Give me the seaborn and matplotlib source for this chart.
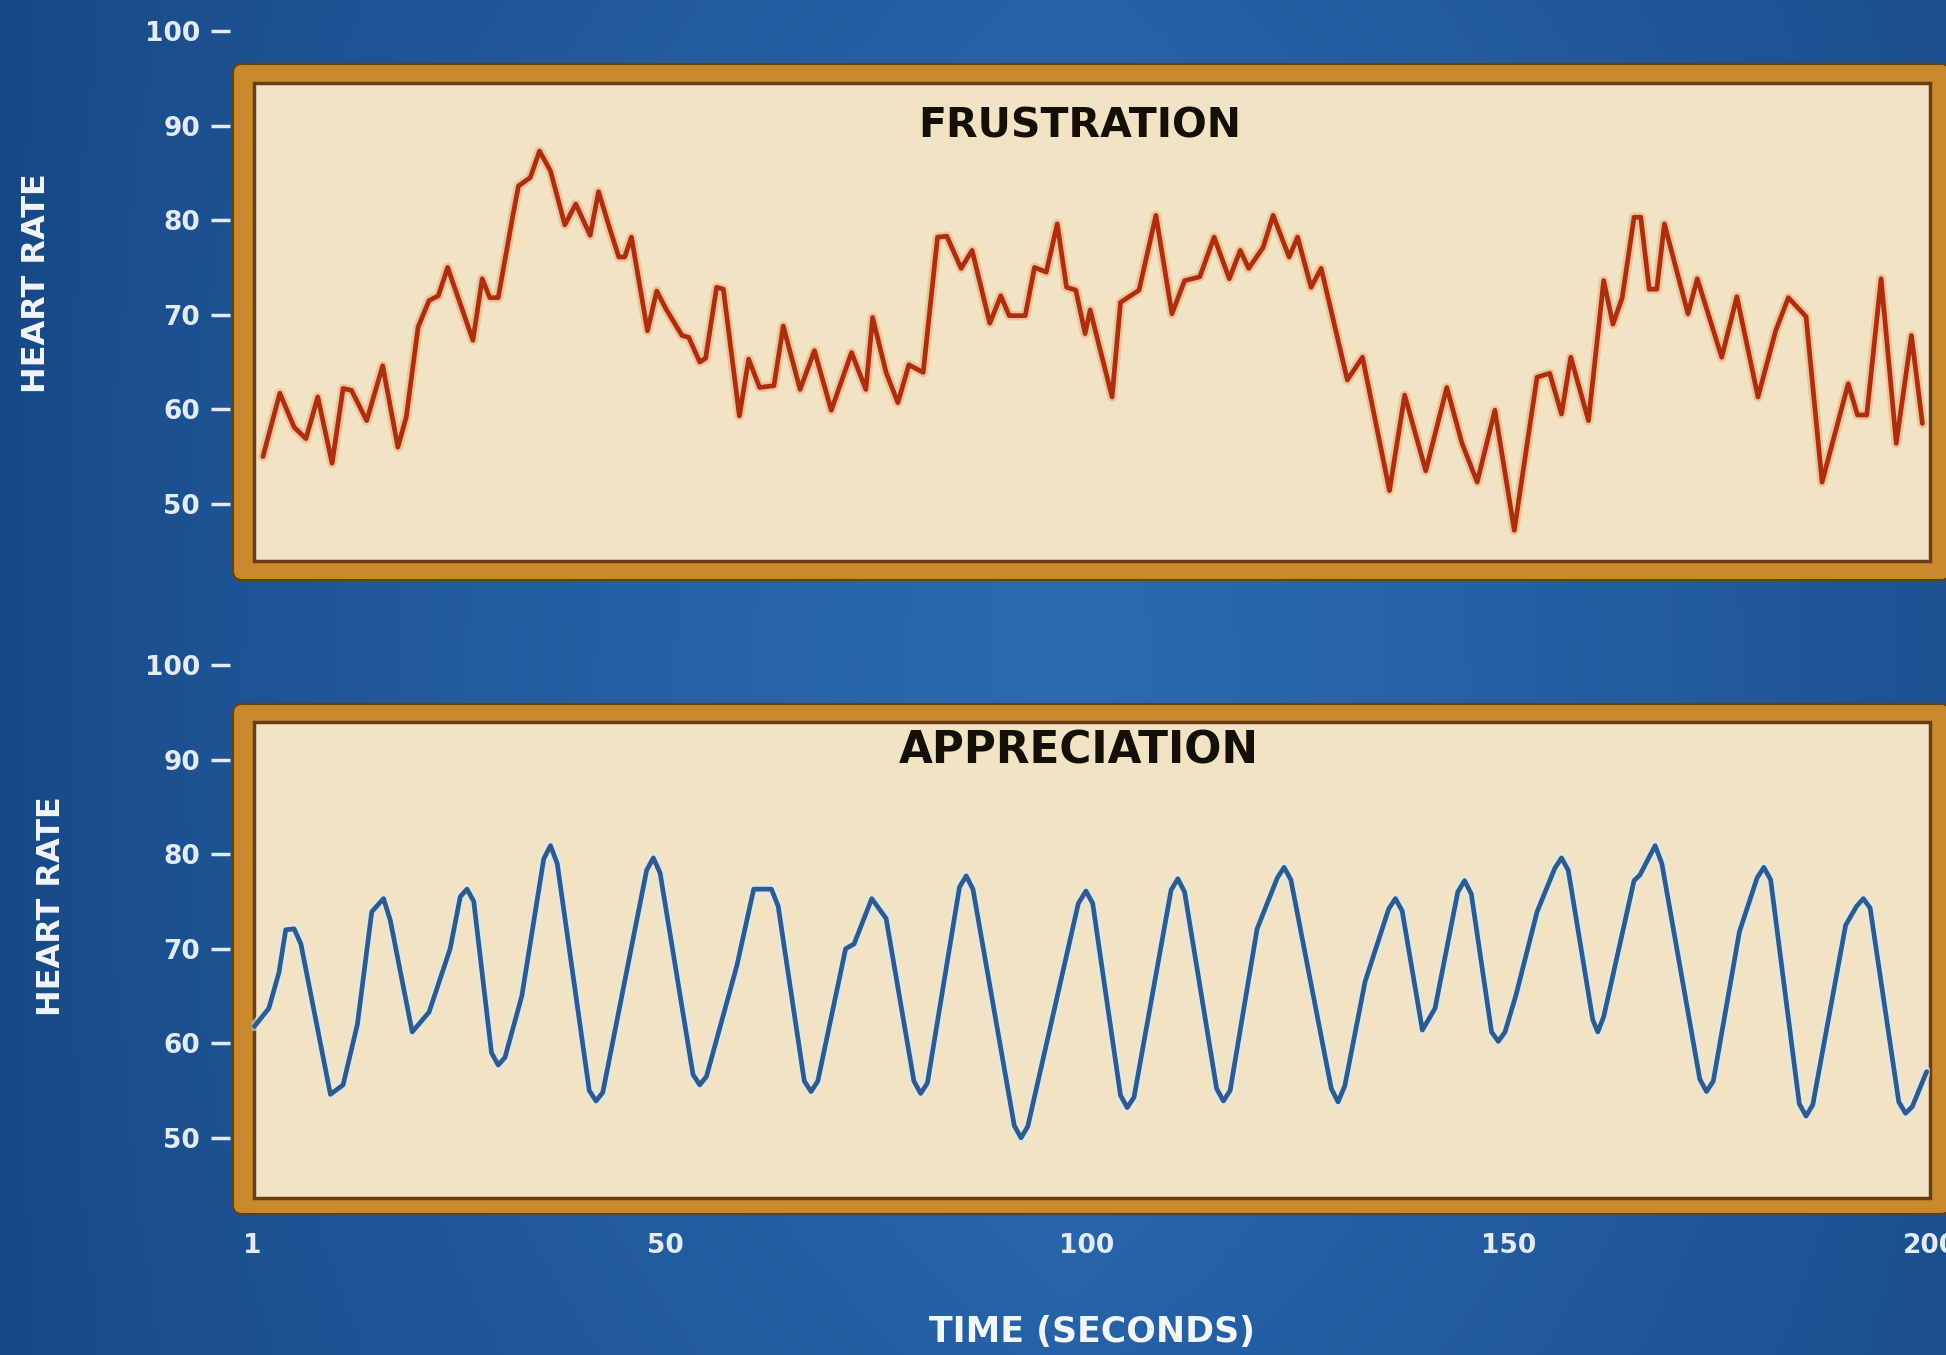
import matplotlib
matplotlib.use('Agg')
import matplotlib.pyplot as plt
import matplotlib.patheffects as pe
from matplotlib.patches import FancyBboxPatch, Rectangle
from matplotlib.transforms import Affine2D
import numpy as np
import seaborn as sns

W, H = 1946, 1355

# heart rate (time in seconds, beats per minute)
frus_time = [2.3, 4.3, 6.0, 7.4, 8.8, 10.5, 11.8, 12.8, 14.6, 16.5, 18.3, 19.3, 20.7, 22.0,
             23.1, 24.2, 27.2, 28.3, 29.2, 30.2, 31.9, 32.6, 34.0, 35.1, 36.4, 38.1, 39.4,
             41.1, 42.1, 43.5, 44.5, 45.2, 46.0, 47.9, 49.0, 50.1, 52.0, 52.8, 54.1, 54.8,
             56.1, 56.9, 58.8, 59.9, 61.2, 62.9, 64.0, 66.0, 67.7, 69.7, 72.1, 73.8, 74.6,
             76.2, 77.6, 78.9, 80.6, 82.3, 83.4, 85.1, 86.4, 88.5, 89.8, 90.8, 92.7, 93.8,
             95.2, 96.5, 97.6, 98.7, 99.8, 100.4, 103.0, 104.0, 106.2, 108.2, 110.1, 111.6,
             113.4, 115.1, 116.9, 118.2, 119.2, 120.9, 122.1, 124.0, 125.0, 126.6, 127.8,
             130.9, 132.7, 135.9, 137.7, 140.2, 142.7, 144.5, 146.3, 148.4, 150.7, 153.4,
             154.9, 156.3, 157.4, 159.5, 161.3, 162.4, 163.5, 164.9, 165.7, 166.7, 167.6,
             168.5, 171.3, 172.4, 175.3, 177.1, 179.6, 181.7, 183.2, 185.3, 187.2, 190.3,
             191.4, 192.5, 194.2, 196.0, 197.8, 199.1]
frus_rate = [55.0, 61.7, 58.1, 56.9, 61.3, 54.3, 62.2, 62.0, 58.8, 64.6, 56.0, 59.2, 68.7, 71.5,
             72.0, 75.0, 67.3, 73.8, 71.8, 71.8, 80.3, 83.6, 84.5, 87.3, 85.2, 79.5, 81.7,
             78.4, 83.0, 78.9, 76.1, 76.1, 78.2, 68.3, 72.5, 70.6, 67.8, 67.6, 65.0, 65.4,
             72.9, 72.7, 59.3, 65.3, 62.3, 62.5, 68.8, 62.1, 66.2, 59.9, 66.0, 62.1, 69.7,
             63.9, 60.7, 64.7, 63.9, 78.2, 78.3, 74.9, 76.8, 69.1, 72.0, 69.9, 69.9, 75.0,
             74.5, 79.6, 72.9, 72.6, 68.0, 70.5, 61.3, 71.3, 72.6, 80.5, 70.1, 73.6,
             74.0, 78.2, 73.8, 76.8, 74.9, 77.1, 80.5, 76.1, 78.2, 72.9, 74.9,
             63.1, 65.5, 51.4, 61.5, 53.5, 62.3, 56.4, 52.3, 59.9, 47.2, 63.4,
             63.8, 59.5, 65.5, 58.8, 73.6, 69.0, 71.8, 80.3, 80.3, 72.7, 72.7,
             79.6, 70.1, 73.8, 65.5, 71.9, 61.3, 68.3, 71.8, 69.8, 52.3, 62.7,
             59.4, 59.4, 73.8, 56.4, 67.8, 58.5]

appr_time = [1.3, 3.0, 4.2, 5.0, 6.0, 6.8, 10.3, 11.8, 13.5, 15.2, 16.6, 17.4, 20.0, 22.0, 24.5,
             25.7, 26.5, 27.3, 29.4, 30.2, 31.0, 33.0, 35.6, 36.4, 37.2, 41.0, 41.8, 42.6,
             47.8, 48.6, 49.4, 53.3, 54.1, 54.9, 58.5, 60.5, 62.6, 63.4, 66.5, 67.3, 68.1,
             71.4, 72.4, 74.5, 76.2, 79.5, 80.3, 81.1, 84.9, 85.7, 86.5, 91.4, 92.2, 93.0,
             99.0, 99.9, 100.7, 104.0, 104.8, 105.6, 110.0, 110.8, 111.6, 115.4, 116.2, 117.0,
             120.2, 122.6, 123.4, 124.2, 129.0, 129.8, 130.6, 133.0, 135.8, 136.6, 137.4,
             139.8, 141.3, 144.0, 144.8, 145.6, 148.0, 148.8, 149.6, 150.9, 153.4, 155.5,
             156.3, 157.1, 160.0, 160.6, 161.3, 164.9, 165.6, 167.4, 168.2, 172.7, 173.5,
             174.3, 177.4, 179.5, 180.3, 181.1, 184.5, 185.3, 186.1, 190.0, 191.3, 192.1,
             192.9, 196.3, 197.1, 197.9, 199.6]
appr_rate = [61.8, 63.7, 67.5, 72.0, 72.1, 70.5, 54.6, 55.6, 62.0, 73.9, 75.3, 73.0, 61.2, 63.3, 70.0,
             75.5, 76.3, 75.0, 59.0, 57.7, 58.5, 65.0, 79.5, 80.9, 79.0, 55.0, 53.9, 54.8,
             78.3, 79.6, 78.0, 56.7, 55.6, 56.5, 68.2, 76.3, 76.3, 74.5, 56.0, 54.9, 56.0,
             70.0, 70.5, 75.3, 73.2, 56.0, 54.7, 55.8, 76.5, 77.7, 76.3, 51.3, 50.0, 51.2,
             74.8, 76.1, 74.8, 54.5, 53.2, 54.3, 76.2, 77.4, 76.0, 55.2, 53.9, 55.0,
             72.1, 77.5, 78.6, 77.3, 55.2, 53.8, 55.5, 66.5, 74.2, 75.3, 74.0,
             61.4, 63.7, 76.0, 77.2, 75.8, 61.2, 60.2, 61.2, 65.1, 73.9, 78.5,
             79.6, 78.3, 62.5, 61.2, 62.8, 77.2, 77.8, 80.9, 79.0, 56.2, 54.9,
             56.0, 71.8, 77.5, 78.6, 77.3, 53.6, 52.3, 53.5, 72.5, 74.5, 75.3,
             74.3, 53.8, 52.6, 53.3, 57.0]

y_ticks = [50, 60, 70, 80, 90, 100]
x_ticks = [1, 50, 100, 150, 200]
panel_titles = ['FRUSTRATION', 'APPRECIATION']
y_label = 'HEART RATE'
x_label = 'TIME (SECONDS)'

sns.set_style('ticks')
plt.rcParams['font.family'] = ['DejaVu Sans']

BG_DARK = np.array([0x17, 0x47, 0x85]) / 255
BG_LIGHT = np.array([0x2b, 0x6b, 0xb2]) / 255
FRAME = '#c98a2c'
FRAME_EDGE = '#6b3d14'
CREAM = '#f2e3c4'
LABEL = '#e2ebf6'

fig = plt.figure(figsize=(W / 100, H / 100), dpi=100)

# blue backdrop, darker at the left edge and lighter toward the middle
bg = fig.add_axes([0, 0, 1, 1], zorder=-5)
u = np.linspace(0, 1, 400)
w = np.clip(1 - np.abs(u - 0.55) / 0.55, 0, 1) ** 0.7
v = np.linspace(0, 1, 300)[:, None]
mix = (w[None, :] * (0.75 + 0.25 * np.sin(np.pi * v)))[..., None]
bg.imshow(BG_DARK + (BG_LIGHT - BG_DARK) * mix, aspect='auto', extent=[0, 1, 0, 1])
bg.set_axis_off()

# pixel transform, origin at the top left
pix = Affine2D().scale(1 / W, -1 / H).translate(0, 1) + fig.transFigure


def add_frame(outer, inner):
    x0, y0, x1, y1 = outer
    fig.add_artist(FancyBboxPatch((x0, y0), x1 - x0, y1 - y0,
                                  boxstyle='round,pad=0,rounding_size=9',
                                  facecolor=FRAME, edgecolor=FRAME_EDGE, linewidth=1.5,
                                  transform=pix, zorder=-3))
    x0, y0, x1, y1 = inner
    fig.add_artist(Rectangle((x0, y0), x1 - x0, y1 - y0, facecolor=CREAM,
                             edgecolor=FRAME_EDGE, linewidth=2.5, transform=pix, zorder=-2))


def px_rect(x0, y0, x1, y1):
    return [x0 / W, 1 - y1 / H, (x1 - x0) / W, (y1 - y0) / H]


panels = [
    dict(t=frus_time, r=frus_rate, color='#ad2e0d', halo='#eeae80', title=panel_titles[0],
         title_size=29.5, box=(252, 25, 1930, 561), ylim=(43.96, 100.63), title_y=0.81,
         outer=(233, 64, 1950, 580), inner=(254, 83, 1930, 561), ylab=(37, 283)),
    dict(t=appr_time, r=appr_rate, color='#2d5b90', halo='#d8eaf9', title=panel_titles[1],
         title_size=31.5, box=(252, 660, 1930, 1198), ylim=(43.64, 100.53), title_y=0.83,
         outer=(233, 704, 1950, 1214), inner=(254, 722, 1930, 1198), ylab=(52, 906)),
]

for k, p in enumerate(panels):
    add_frame(p['outer'], p['inner'])
    ax = fig.add_axes(px_rect(*p['box']))
    ax.set_facecolor('none')
    sns.lineplot(x=p['t'], y=p['r'], ax=ax, color=p['color'], linewidth=3.4,
                 estimator=None, sort=False)
    ax.lines[0].set_path_effects([pe.Stroke(linewidth=7, foreground=p['halo'], alpha=0.6),
                                  pe.Normal()])
    ax.lines[0].set_solid_joinstyle('round')
    ax.set_xlim(1, 200)
    ax.set_ylim(*p['ylim'])
    for s in ax.spines.values():
        s.set_visible(False)
    ax.spines['left'].set_position(('outward', 16))
    ax.set_yticks(y_ticks)
    ax.tick_params(axis='y', colors=LABEL, length=13.5, width=2.5, pad=8, labelsize=19)
    for lab in ax.get_yticklabels():
        lab.set_fontweight('bold')
    ax.set_xticks(x_ticks)
    if k == 1:
        ax.tick_params(axis='x', colors=LABEL, length=0, pad=25, labelsize=19)
        for lab in ax.get_xticklabels():
            lab.set_fontweight('bold')
    else:
        ax.tick_params(axis='x', length=0, labelbottom=False)
    ax.set_xlabel('')
    ax.set_ylabel('')
    ax.text(0.493, p['title_y'], p['title'], transform=ax.transAxes, ha='center', va='center',
            fontsize=p['title_size'], fontweight='bold', color='#141008')
    fig.text(p['ylab'][0] / W, 1 - p['ylab'][1] / H, y_label, rotation=90, ha='center',
             va='center', fontsize=23, fontweight='bold', color='#f2f6fb')

fig.text(1092 / W, 1 - 1332 / H, x_label, ha='center', va='center', fontsize=25,
         fontweight='bold', color='#f2f6fb')

fig.savefig('out.png', dpi=100)
